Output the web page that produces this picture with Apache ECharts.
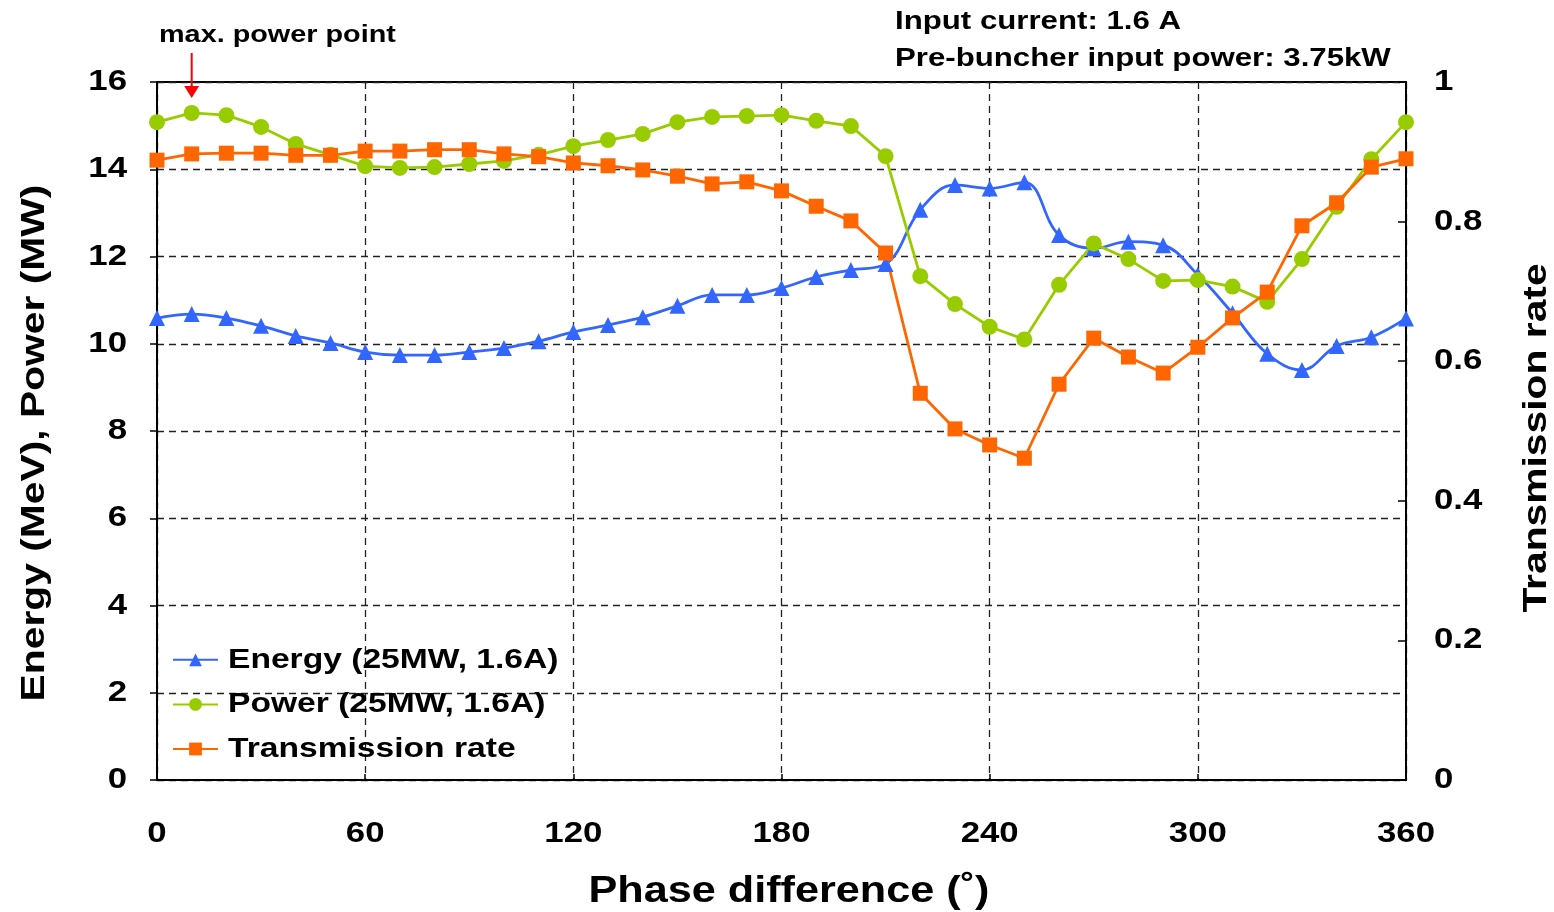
<!DOCTYPE html>
<html>
<head>
<meta charset="utf-8">
<script src="https://cdn.jsdelivr.net/npm/echarts@6/dist/echarts.min.js"></script>
<style>
html,body{margin:0;padding:0;background:#fff;overflow:hidden;}
#chart{width:1554px;height:912px;display:block;}
</style>
</head>
<body>
<div id="chart"></div>
<script>
// ---- data ----
const phase = [0,10,20,30,40,50,60,70,80,90,100,110,120,130,140,150,160,170,180,190,200,210,220,230,240,250,260,270,280,290,300,310,320,330,340,350,360];
const energy = [10.59,10.68,10.59,10.41,10.18,10.02,9.81,9.74,9.74,9.81,9.90,10.06,10.27,10.43,10.61,10.87,11.12,11.12,11.28,11.53,11.69,11.83,13.07,13.64,13.56,13.70,12.49,12.19,12.34,12.26,11.58,10.70,9.77,9.40,9.95,10.15,10.58];
const power = [15.08,15.29,15.24,14.97,14.58,14.33,14.07,14.03,14.05,14.12,14.19,14.33,14.53,14.67,14.81,15.08,15.20,15.22,15.24,15.11,14.99,14.30,11.55,10.91,10.39,10.10,11.35,12.30,11.94,11.44,11.46,11.31,10.96,11.94,13.14,14.23,15.08];
const transmission = [0.888,0.897,0.898,0.898,0.895,0.895,0.901,0.901,0.903,0.903,0.897,0.893,0.884,0.880,0.874,0.865,0.854,0.857,0.844,0.822,0.801,0.755,0.554,0.503,0.480,0.461,0.567,0.633,0.606,0.583,0.620,0.662,0.699,0.794,0.827,0.878,0.890];
const xTicks = [0,60,120,180,240,300,360];
const seriesNames = ['Energy (25MW, 1.6A)','Power (25MW, 1.6A)','Transmission rate'];

// the reference text is a horizontally widened Arial Bold: widen glyphs the same way
(function(){
  const SX = 1.2;
  const proto = window.CanvasRenderingContext2D && CanvasRenderingContext2D.prototype;
  if (!proto) return;
  const ft = proto.fillText, st = proto.strokeText, mt = proto.measureText;
  proto.fillText = function(t, x, y, mw){
    this.save(); this.translate(x, y); this.scale(SX, 1);
    if (mw !== undefined) ft.call(this, t, 0, 0, mw / SX); else ft.call(this, t, 0, 0);
    this.restore();
  };
  proto.strokeText = function(t, x, y, mw){
    this.save(); this.translate(x, y); this.scale(SX, 1);
    if (mw !== undefined) st.call(this, t, 0, 0, mw / SX); else st.call(this, t, 0, 0);
    this.restore();
  };
  proto.measureText = function(t){
    const m = mt.call(this, t);
    return {
      width: m.width * SX,
      actualBoundingBoxLeft: m.actualBoundingBoxLeft * SX,
      actualBoundingBoxRight: m.actualBoundingBoxRight * SX,
      actualBoundingBoxAscent: m.actualBoundingBoxAscent,
      actualBoundingBoxDescent: m.actualBoundingBoxDescent,
      fontBoundingBoxAscent: m.fontBoundingBoxAscent,
      fontBoundingBoxDescent: m.fontBoundingBoxDescent
    };
  };
})();

const FONT = "'Liberation Sans', Arial, sans-serif";
const pair = (arr) => phase.map((p, i) => [p, arr[i]]);
const gridDash = {show:true, lineStyle:{color:'#222', width:1.3, type:[7,5]}};

const chart = echarts.init(document.getElementById('chart'), null, {renderer:'canvas', width:1554, height:912});
const option = {
  animation:false,
  backgroundColor:'#fff',
  textStyle:{fontFamily:FONT},
  grid:{left:157, right:148, top:82, bottom:132, outerBoundsMode:'none', containLabel:false,
        show:true, borderColor:'#000', borderWidth:2, backgroundColor:'transparent'},
  legend:{
    orient:'vertical', left:172, top:643, padding:0, itemGap:11,
    itemWidth:45, itemHeight:16,
    data:seriesNames,
    textStyle:{fontSize:28, fontWeight:'bold', color:'#000', fontFamily:FONT, lineHeight:30, padding:[0,0,0,5]}
  },
  xAxis:{
    type:'value', min:0, max:360, interval:60,
    axisLine:{show:true, onZero:false, lineStyle:{color:'#000', width:2}},
    axisTick:{show:true, inside:true, length:6, lineStyle:{color:'#000', width:1.5}},
    axisLabel:{fontSize:29, fontWeight:'bold', color:'#000', margin:37, fontFamily:FONT},
    splitLine:gridDash,
    name:'Phase difference (\u02DA)', nameLocation:'middle', nameGap:90,
    nameTextStyle:{fontSize:36, fontWeight:'bold', color:'#000', fontFamily:FONT, padding:[0,0,0,15]}
  },
  yAxis:[{
    type:'value', min:0, max:16, interval:2,
    axisLine:{show:true, lineStyle:{color:'#000', width:2}},
    axisTick:{show:true, inside:false, length:7, lineStyle:{color:'#000', width:1.5}},
    axisLabel:{fontSize:29, fontWeight:'bold', color:'#000', margin:30, fontFamily:FONT},
    splitLine:gridDash,
    name:'Energy (MeV), Power (MW)', nameLocation:'middle', nameGap:102,
    nameTextStyle:{fontSize:34, fontWeight:'bold', color:'#000', fontFamily:FONT, padding:[0,24,0,0]}
  },{
    type:'value', min:0, max:1, interval:0.2, position:'right',
    axisLine:{show:true, lineStyle:{color:'#000', width:2}},
    axisTick:{show:true, inside:true, length:8, lineStyle:{color:'#000', width:1.5}},
    axisLabel:{fontSize:29, fontWeight:'bold', color:'#000', margin:28, fontFamily:FONT},
    splitLine:{show:false},
    name:'Transmission rate', nameLocation:'middle', nameGap:110,
    nameTextStyle:{fontSize:34, fontWeight:'bold', color:'#000', fontFamily:FONT, padding:[0,14,0,0]}
  }],
  series:[{
    name:seriesNames[0], type:'line', yAxisIndex:0, data:pair(energy),
    smooth:0.4, symbol:'triangle', symbolSize:16,
    lineStyle:{color:'#3366FF', width:2.8}, itemStyle:{color:'#3366FF'}
  },{
    name:seriesNames[1], type:'line', yAxisIndex:0, data:pair(power),
    symbol:'circle', symbolSize:16,
    lineStyle:{color:'#99CC00', width:2.8}, itemStyle:{color:'#99CC00'}
  },{
    name:seriesNames[2], type:'line', yAxisIndex:1, data:pair(transmission),
    symbol:'rect', symbolSize:15,
    lineStyle:{color:'#FF6600', width:2.8}, itemStyle:{color:'#FF6600'}
  }]
};
chart.setOption(option);

// annotations
const ax = chart.convertToPixel({xAxisIndex:0}, phase[1]);
chart.setOption({
  graphic:[
    {type:'text', x:159, y:35, style:{text:'max. power point', fontSize:24, fontWeight:'bold', fontFamily:FONT, fill:'#000', verticalAlign:'middle'}},
    {type:'line', shape:{x1:ax, y1:53, x2:ax, y2:88}, style:{stroke:'#FF0000', lineWidth:2}},
    {type:'polygon', shape:{points:[[ax-7.5,86],[ax+7.5,86],[ax,98]]}, style:{fill:'#FF0000'}},
    {type:'text', x:895, y:22, style:{text:'Input current: 1.6 A', fontSize:26, fontWeight:'bold', fontFamily:FONT, fill:'#000', verticalAlign:'middle'}},
    {type:'text', x:895, y:59, style:{text:'Pre-buncher input power: 3.75kW', fontSize:26, fontWeight:'bold', fontFamily:FONT, fill:'#000', verticalAlign:'middle'}}
  ]
});
</script>
</body>
</html>
